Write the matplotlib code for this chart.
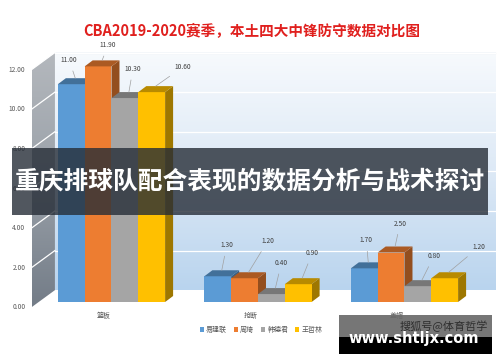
import numpy as np
import matplotlib
matplotlib.use('Agg')
import matplotlib.pyplot as plt
from matplotlib.patches import Polygon, Rectangle
from matplotlib.colors import to_rgb, LinearSegmentedColormap

plt.rcParams['font.family'] = ['Noto Sans CJK SC', 'DejaVu Sans']

# data
categories = ['篮板', '抢断', '盖帽']
players = ['易建联', '周琦', '韩德君', '王哲林']
values = {
    '易建联': [11.00, 1.30, 1.70],
    '周琦': [11.90, 1.20, 2.50],
    '韩德君': [10.30, 0.40, 0.80],
    '王哲林': [10.60, 0.90, 1.20],
}
yticks = [0, 2, 4, 6, 8, 10, 12]
title = 'CBA2019-2020赛季，本土四大中锋防守数据对比图'
banner = '重庆排球队配合表现的数据分析与战术探讨'

colors = ['#5b9bd5', '#ed7d31', '#a5a5a5', '#ffc000']
# label offsets (pixels) per player per category
label_off = {
    '易建联': [(-6, 18), (5, 25), (-2, 22)],
    '周琦': [(6, 15), (19, 31), (5, 23)],
    '韩德君': [(4, 23), (6, 25), (12, 24)],
    '王哲林': [(27, 19), (10, 25), (30, 25)],
}

W, H = 500, 362
fig = plt.figure(figsize=(W / 100, H / 100), dpi=100)
ax = fig.add_axes([0, 1 - 321.8 / H, 1, (321.8 - 44.6) / H])
ax.set_xlim(-0.761, 2.652)
ax.set_ylim(-1, 13)
ax.axis('off')

bw = 0.183
ddx, ddy = 0.0546, 0.303  # bar depth
wall_dy = 0.6
wall_x0, wall_x1 = -0.386, 2.618
side_x = -0.543

# back wall gradient
grad = np.linspace(0, 1, 256).reshape(-1, 1)
cmap = LinearSegmentedColormap.from_list('wall', ['#b9d4ee', '#dde9f6', '#f7fafd'])
ax.imshow(grad, extent=(wall_x0, wall_x1, wall_dy, 12 + wall_dy), origin='lower',
          cmap=cmap, aspect='auto', zorder=0)
ax.plot([wall_x0, wall_x1], [12 + wall_dy] * 2, color='#d0d4d8', lw=0.8, zorder=1)

# left wall
cmap2 = LinearSegmentedColormap.from_list('side', ['#737c87', '#9aa1a9', '#b4b8bd'])
im = ax.imshow(grad, extent=(side_x, wall_x0, -0.25, 12 + wall_dy), origin='lower',
               cmap=cmap2, aspect='auto', zorder=0)
clip = Polygon([(side_x, -0.25), (wall_x0, wall_dy), (wall_x0, 12 + wall_dy), (side_x, 11.75)],
               closed=True, transform=ax.transData, fc='none', ec='none')
ax.add_patch(clip)
im.set_clip_path(clip)

for v in yticks[1:]:
    ax.plot([wall_x0, wall_x1], [v + wall_dy] * 2, color='white', lw=0.9, zorder=1)
    ax.plot([side_x, wall_x0], [v - 0.25, v + wall_dy], color='white', lw=0.9, zorder=1)
for v in yticks:
    ax.text(-0.588, v - 0.27, f'{v:.2f}', ha='right', va='center', fontsize=4.8, color='#595959')

x = np.arange(len(categories))
bars = []
z = 2
for i, p in enumerate(players):
    offs = (i - 1.5) * bw
    b = ax.bar(x + offs, values[p], width=bw, color=colors[i], zorder=z + 1, linewidth=0)
    bars.append(b)
    base = np.array(to_rgb(colors[i]))
    for j, h in enumerate(values[p]):
        x0 = x[j] + offs - bw / 2
        top = Polygon([(x0, h), (x0 + bw, h), (x0 + bw + ddx, h + ddy), (x0 + ddx, h + ddy)],
                      closed=True, fc=base * 0.72, ec='none', zorder=z + 1)
        side = Polygon([(x0 + bw, 0), (x0 + bw + ddx, ddy), (x0 + bw + ddx, h + ddy), (x0 + bw, h)],
                       closed=True, fc=base * 0.62, ec='none', zorder=z)
        ax.add_patch(top)
        ax.add_patch(side)
        ox, oy = label_off[p][j]
        ax.annotate(f'{h:.2f}', xy=(x[j] + offs + ddx / 2, h + ddy), xytext=(ox, oy),
                    textcoords='offset pixels', ha='center', va='center', fontsize=4.8,
                    color='#404040', zorder=20,
                    arrowprops=dict(arrowstyle='-', color='#a0a0a0', lw=0.5,
                                    shrinkA=3, shrinkB=0))
    z += 2

for j, c in enumerate(categories):
    ax.text(x[j] - 0.05, -0.72, c, ha='center', va='center', fontsize=5, color='#595959')

leg = ax.legend(bars, players, loc='center', bbox_to_anchor=(0.522, 1 - 330 / H),
                bbox_transform=fig.transFigure, ncol=4, frameon=False, fontsize=5,
                handlelength=0.6, handleheight=0.6, handletextpad=0.3, columnspacing=1.0)
for t in leg.get_texts():
    t.set_color('#595959')

fig.text(0.504, 1 - 31 / H, title, ha='center', va='center', fontsize=10.5,
         fontweight='bold', color='#e0201e')

# overlay banner
fig.patches.append(Rectangle((12 / W, 1 - 215 / H), 476 / W, 67 / H, transform=fig.transFigure,
                             fc='#262d37', alpha=0.8, ec='none', zorder=30))
fig.text(0.5, 1 - 181 / H, banner, ha='center', va='center', fontsize=17.8,
         fontweight='bold', color='white', zorder=31)

# watermark
fig.patches.append(Rectangle((339 / W, 1 - 337 / H), 153 / W, 22 / H, transform=fig.transFigure,
                             fc='#6a6a6a', alpha=0.92, ec='none', zorder=30))
fig.patches.append(Rectangle((339 / W, 1 - 354 / H), 153 / W, 17 / H, transform=fig.transFigure,
                             fc='black', ec='none', zorder=30))
fig.text(488 / W, 1 - 326 / H, '搜狐号@体育哲学', ha='right', va='center', fontsize=8,
         color='#2e2e2e', zorder=31)
fig.text(414 / W, 1 - 339 / H, 'www.shtljx.com', ha='center', va='center', fontsize=10.5,
         fontweight='bold', color='white', family=['DejaVu Sans'], zorder=31)

fig.savefig('out.png', dpi=100)
